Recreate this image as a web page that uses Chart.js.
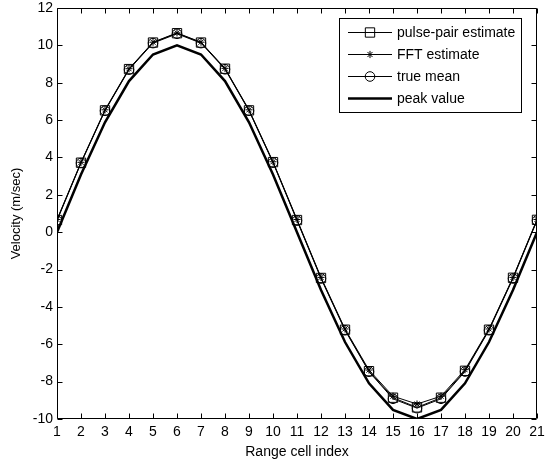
<!DOCTYPE html>
<html>
<head>
<meta charset="utf-8">
<script src="https://cdn.jsdelivr.net/npm/chart.js@4.4.0/dist/chart.umd.min.js"></script>
<style>
html,body{margin:0;padding:0;background:#fff;}
#wrap{width:545px;height:463px;position:relative;}
</style>
</head>
<body>
<div id="wrap"><canvas id="c" width="545" height="463"></canvas></div>
<script>
const rangeCells = [1,2,3,4,5,6,7,8,9,10,11,12,13,14,15,16,17,18,19,20,21];
const pulsePair = [0.65,3.72,6.52,8.73,10.15,10.65,10.15,8.75,6.52,3.75,0.65,-2.45,-5.22,-7.44,-8.86,-9.38,-8.86,-7.42,-5.22,-2.44,0.66];
const fftEst    = [0.68,3.74,6.55,8.75,10.17,10.67,10.17,8.77,6.55,3.77,0.68,-2.42,-5.18,-7.38,-8.78,-9.20,-8.78,-7.36,-5.18,-2.42,0.68];
const trueMean  = [0.62,3.70,6.50,8.70,10.12,10.62,10.12,8.72,6.50,3.72,0.62,-2.48,-5.25,-7.47,-8.92,-9.42,-8.92,-7.46,-5.25,-2.48,0.62];
const peakValue = [0,3.09,5.88,8.09,9.51,10,9.51,8.09,5.88,3.09,0,-3.09,-5.88,-8.09,-9.51,-10,-9.51,-8.09,-5.88,-3.09,0];
const xTicks = rangeCells;
const yTicks = [-10,-8,-6,-4,-2,0,2,4,6,8,10,12];
const FONT = "'Liberation Sans', Arial, sans-serif";

function pts(arr){ return rangeCells.map((x,i)=>({x:x,y:arr[i]})); }

const boxPlugin = {
  id:'boxTicks',
  afterDatasetsDraw(chart){
    const ctx = chart.ctx, a = chart.chartArea;
    const xs = chart.scales.x, ys = chart.scales.y;
    ctx.save();
    ctx.strokeStyle = '#000'; ctx.lineWidth = 1;
    const L = Math.round(a.left)+0.5, R = Math.round(a.right)-0.5, T = Math.round(a.top)+0.5, B = Math.round(a.bottom)-0.5;
    ctx.beginPath();
    ctx.rect(L, T, R-L, B-T);
    const tl = 5;
    xTicks.forEach(v=>{
      const px = Math.round(xs.getPixelForValue(v))+0.5;
      ctx.moveTo(px,B); ctx.lineTo(px,B-tl);
      ctx.moveTo(px,T); ctx.lineTo(px,T+tl);
    });
    yTicks.forEach(v=>{
      const py = Math.round(ys.getPixelForValue(v))+0.5;
      ctx.moveTo(L,py); ctx.lineTo(L+tl,py);
      ctx.moveTo(R,py); ctx.lineTo(R-tl,py);
    });
    ctx.stroke();

    // legend box
    const lx = 339.5, ly = 18.5, lw = 182, lh = 94;
    ctx.fillStyle = '#fff';
    ctx.fillRect(lx, ly, lw, lh);
    ctx.strokeRect(lx, ly, lw, lh);
    chart.data.datasets.forEach((ds,i)=>{
      const cy = 32 + i*22;
      ctx.strokeStyle = '#000';
      ctx.beginPath();
      ctx.lineWidth = ds.borderWidth;
      ctx.moveTo(348, cy+0.5); ctx.lineTo(392, cy+0.5);
      ctx.stroke();
      if (ds.pointStyle && ds.pointRadius > 0) {
        ctx.fillStyle = 'rgba(0,0,0,0)';
        ctx.lineWidth = 1;
        Chart.helpers.drawPoint(ctx, {pointStyle: ds.pointStyle, radius: ds.pointRadius, borderWidth: 1}, 370, cy+0.5);
      }
      ctx.fillStyle = '#000';
      ctx.font = '14px ' + FONT;
      ctx.textBaseline = 'middle';
      ctx.textAlign = 'left';
      ctx.fillText(ds.label, 397, cy+1);
    });
    ctx.restore();
  }
};

new Chart(document.getElementById('c'), {
  type:'line',
  data:{
    datasets:[
      {label:'pulse-pair estimate', data:pts(pulsePair), borderColor:'#000', borderWidth:1, pointStyle:'rect', pointRadius:6.6, pointBorderWidth:1, pointBorderColor:'#000', pointBackgroundColor:'rgba(0,0,0,0)', tension:0},
      {label:'FFT estimate', data:pts(fftEst), borderColor:'#000', borderWidth:1, pointStyle:'star', pointRadius:3.6, pointBorderWidth:1, pointBorderColor:'#000', pointBackgroundColor:'rgba(0,0,0,0)', tension:0},
      {label:'true mean', data:pts(trueMean), borderColor:'#000', borderWidth:1, pointStyle:'circle', pointRadius:4.8, pointBorderWidth:1, pointBorderColor:'#000', pointBackgroundColor:'rgba(0,0,0,0)', tension:0},
      {label:'peak value', data:pts(peakValue), borderColor:'#000', borderWidth:2.5, pointStyle:false, pointRadius:0, tension:0}
    ]
  },
  options:{
    responsive:false,
    animation:false,
    devicePixelRatio:1,
    layout:{padding:{top:8,right:8,left:0,bottom:0}},
    plugins:{legend:{display:false}, tooltip:{enabled:false}},
    scales:{
      x:{
        type:'linear', min:1, max:21,
        afterBuildTicks(s){ s.ticks = xTicks.map(v=>({value:v})); },
        afterFit(s){ s.height = 44; s.paddingLeft = 0; s.paddingRight = 0; },
        grid:{display:false, drawTicks:false, tickLength:0}, border:{display:false},
        ticks:{color:'#000', font:{family:FONT, size:14}, padding:5, maxRotation:0, autoSkip:false},
        title:{display:true, text:'Range cell index', color:'#000', font:{family:FONT, size:14}, padding:{top:0,bottom:2}}
      },
      y:{
        type:'linear', min:-10, max:12,
        afterBuildTicks(s){ s.ticks = yTicks.map(v=>({value:v})); },
        afterFit(s){ s.width = 57; s.paddingTop = 0; s.paddingBottom = 0; },
        grid:{display:false, drawTicks:false, tickLength:0}, border:{display:false},
        ticks:{color:'#000', font:{family:FONT, size:14}, padding:4},
        title:{display:true, text:'Velocity (m/sec)', color:'#000', font:{family:FONT, size:13}, padding:{top:9,bottom:0}}
      }
    }
  },
  plugins:[boxPlugin]
});
</script>
</body>
</html>
